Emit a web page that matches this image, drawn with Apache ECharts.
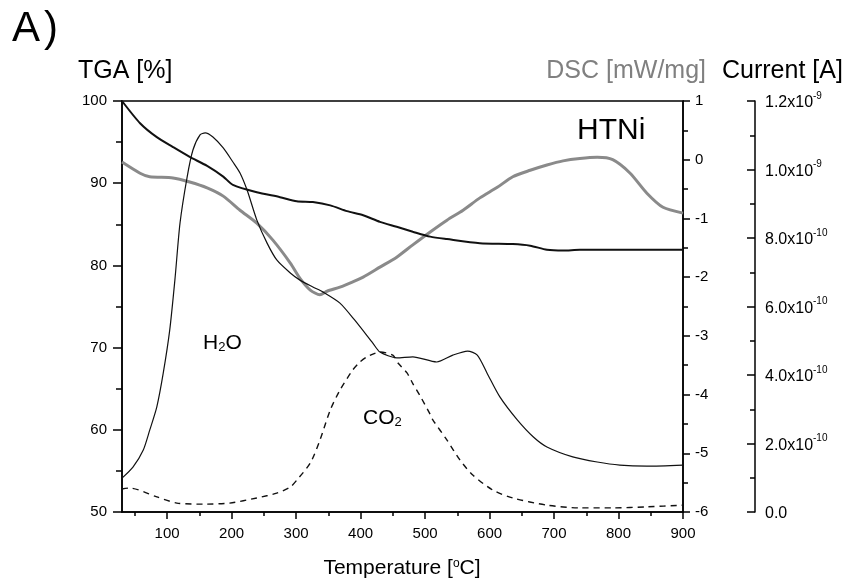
<!DOCTYPE html>
<html>
<head>
<meta charset="utf-8">
<script src="https://cdn.jsdelivr.net/npm/echarts@6/dist/echarts.min.js"></script>
<style>
  html, body { margin: 0; padding: 0; background: #fff; }
  #main { width: 850px; height: 584px; }
</style>
</head>
<body>
<div id="main"></div>
<script>
// x axis ticks (°C)
const xMajor = [100, 200, 300, 400, 500, 600, 700, 800, 900];
const xMinor = [50, 150, 250, 350, 450, 550, 650, 750, 850];

// TGA mass [%]
const tgaTemp = [30, 58, 84, 109, 135, 162, 187, 202, 239, 275, 301, 326, 353, 379, 404, 430, 456, 481, 508, 534, 585, 636, 663, 689, 714, 740, 791, 900];
const tgaMass = [100, 97.3, 95.6, 94.4, 93.2, 92.1, 90.8, 89.8, 88.9, 88.3, 87.8, 87.7, 87.3, 86.6, 86.1, 85.3, 84.7, 84.1, 83.5, 83.2, 82.7, 82.6, 82.4, 81.9, 81.8, 81.9, 81.9, 81.9];

// DSC [mW/mg]
const dscTemp = [30, 58, 73, 109, 135, 162, 187, 213, 239, 264, 291, 306, 322, 337, 348, 368, 388, 404, 430, 456, 481, 508, 534, 559, 585, 612, 636, 663, 689, 714, 740, 767, 791, 818, 844, 869, 900];
const dscVal = [-0.04, -0.23, -0.29, -0.31, -0.38, -0.48, -0.62, -0.86, -1.08, -1.37, -1.76, -2.02, -2.22, -2.30, -2.24, -2.17, -2.08, -2.0, -1.83, -1.66, -1.45, -1.23, -1.03, -0.86, -0.65, -0.47, -0.29, -0.18, -0.09, -0.02, 0.02, 0.04, 0.0, -0.23, -0.57, -0.81, -0.91];

// ion current, in units of 1e-10 A
const h2oTemp = [30, 47, 63, 73, 84, 94, 104, 112, 120, 131, 140, 151, 159, 171, 187, 202, 213, 224, 239, 255, 270, 291, 306, 326, 342, 368, 391, 419, 430, 456, 481, 518, 543, 566, 581, 596, 616, 643, 668, 689, 729, 767, 802, 844, 900];
const h2oCur = [0.99, 1.31, 1.81, 2.39, 3.07, 4.06, 5.31, 6.77, 8.44, 9.78, 10.57, 11.01, 11.07, 10.95, 10.63, 10.22, 9.9, 9.4, 8.53, 7.85, 7.36, 6.98, 6.77, 6.57, 6.42, 6.1, 5.6, 4.93, 4.67, 4.5, 4.53, 4.38, 4.58, 4.70, 4.58, 4.06, 3.36, 2.69, 2.19, 1.90, 1.61, 1.46, 1.37, 1.34, 1.37];

const co2Temp = [30, 42, 84, 115, 156, 197, 239, 270, 291, 301, 322, 337, 353, 368, 388, 399, 410, 430, 450, 458, 472, 481, 492, 508, 512, 534, 554, 574, 605, 636, 689, 740, 791, 844, 900];
const co2Cur = [0.67, 0.70, 0.44, 0.26, 0.23, 0.26, 0.41, 0.55, 0.73, 0.93, 1.43, 2.10, 2.98, 3.56, 4.15, 4.38, 4.53, 4.67, 4.58, 4.35, 4.06, 3.75, 3.40, 2.85, 2.69, 2.10, 1.52, 1.08, 0.64, 0.41, 0.20, 0.12, 0.12, 0.15, 0.20];

const pairs = (xs, ys) => xs.map((x, i) => [x, ys[i]]);

const FONT = "'Liberation Sans', Arial, sans-serif";
const axisLine = { show: true, onZero: false, lineStyle: { color: '#000', width: 1.5 } };
const tickLine = { color: '#000', width: 1.5 };
const labelStyle = { color: '#000', fontSize: 15, fontFamily: FONT };
const subRich = {
  n: { fontSize: 21, fontFamily: FONT, fill: '#000', lineHeight: 26, verticalAlign: 'bottom' },
  sub: { fontSize: 13, fontFamily: FONT, fill: '#000', lineHeight: 12, verticalAlign: 'bottom' }
};

const chart = echarts.init(document.getElementById('main'));
chart.setOption({
  animation: false,
  backgroundColor: '#fff',
  grid: { left: 122, right: 167, top: 101, bottom: 72, show: true, borderColor: '#000', borderWidth: 1.5 },
  xAxis: [
    {
      type: 'value', min: 30, max: 900, position: 'bottom',
      axisLine: axisLine,
      axisTick: { show: true, length: 7, customValues: xMajor, lineStyle: tickLine },
      axisLabel: Object.assign({ customValues: xMajor, margin: 14 }, labelStyle),
      splitLine: { show: false }
    },
    {
      type: 'value', min: 30, max: 900, position: 'bottom',
      axisLine: { show: false, onZero: false },
      axisTick: { show: true, length: 4, customValues: xMinor, lineStyle: tickLine },
      axisLabel: { show: false },
      splitLine: { show: false }
    }
  ],
  yAxis: [
    {
      type: 'value', min: 50, max: 100, interval: 10, position: 'left',
      axisLine: axisLine,
      axisTick: { show: true, length: 9, lineStyle: tickLine },
      minorTick: { show: true, splitNumber: 2, length: 6, lineStyle: tickLine },
      axisLabel: Object.assign({ margin: 15 }, labelStyle),
      splitLine: { show: false }
    },
    {
      type: 'value', min: -6, max: 1, interval: 1, position: 'right',
      axisLine: axisLine,
      axisTick: { show: true, length: 7, lineStyle: tickLine },
      minorTick: { show: true, splitNumber: 2, length: 5, lineStyle: tickLine },
      axisLabel: Object.assign({ margin: 12 }, labelStyle),
      splitLine: { show: false }
    },
    {
      type: 'value', min: 0, max: 12, interval: 2, position: 'right', offset: 72,
      axisLine: axisLine,
      axisTick: { show: true, inside: true, length: 8, lineStyle: tickLine },
      minorTick: { show: true, splitNumber: 2, length: 5, lineStyle: tickLine },
      axisLabel: {
        margin: 10,
        formatter: function (v) {
          if (v === 0) return '{n|0.0}';
          if (v >= 10) return '{n|' + (v / 10).toFixed(1) + 'x10}{sup|-9}';
          return '{n|' + v.toFixed(1) + 'x10}{sup|-10}';
        },
        rich: {
          n: { fontSize: 16, fontFamily: FONT, color: '#000', lineHeight: 20, verticalAlign: 'bottom', padding: [4, 0, 0, 0] },
          sup: { fontSize: 10, fontFamily: FONT, color: '#000', lineHeight: 10, verticalAlign: 'top' }
        }
      },
      splitLine: { show: false }
    }
  ],
  graphic: [
    { type: 'text', x: 12, y: 29, style: { text: 'A', fontSize: 42, fontFamily: FONT, fill: '#000', align: 'left', verticalAlign: 'middle' } },
    { type: 'text', x: 44, y: 29, style: { text: ')', fontSize: 42, fontFamily: FONT, fill: '#000', align: 'left', verticalAlign: 'middle' } },
    { type: 'text', x: 78, y: 71, style: { text: 'TGA [%]', fontSize: 25, fontFamily: FONT, fill: '#000', align: 'left', verticalAlign: 'middle' } },
    { type: 'text', x: 706, y: 71, style: { text: 'DSC [mW/mg]', fontSize: 25, fontFamily: FONT, fill: '#808080', align: 'right', verticalAlign: 'middle' } },
    { type: 'text', x: 722, y: 71, style: { text: 'Current [A]', fontSize: 25, fontFamily: FONT, fill: '#000', align: 'left', verticalAlign: 'middle' } },
    { type: 'text', x: 577, y: 131, style: { text: 'HTNi', fontSize: 30, fontFamily: FONT, fill: '#000', align: 'left', verticalAlign: 'middle' } },
    { type: 'text', x: 203, y: 341, style: { text: '{n|H}{sub|2}{n|O}', align: 'left', verticalAlign: 'middle', rich: subRich } },
    { type: 'text', x: 363, y: 416, style: { text: '{n|CO}{sub|2}', align: 'left', verticalAlign: 'middle', rich: subRich } },
    {
      type: 'text', x: 402, y: 571,
      style: {
        text: '{n|Temperature [}{sup|o}{n|C]}', align: 'center', verticalAlign: 'middle',
        rich: {
          n: { fontSize: 21, fontFamily: FONT, fill: '#000', lineHeight: 26, verticalAlign: 'top' },
          sup: { fontSize: 12, fontFamily: FONT, fill: '#000', lineHeight: 12, verticalAlign: 'top' }
        }
      }
    }
  ],
  series: [
    {
      name: 'DSC', type: 'line', xAxisIndex: 0, yAxisIndex: 1,
      data: pairs(dscTemp, dscVal), showSymbol: false, smooth: 0.25,
      lineStyle: { color: '#8a8a8a', width: 3 }
    },
    {
      name: 'TGA', type: 'line', xAxisIndex: 0, yAxisIndex: 0,
      data: pairs(tgaTemp, tgaMass), showSymbol: false, smooth: 0.25,
      lineStyle: { color: '#111', width: 2 }
    },
    {
      name: 'H2O', type: 'line', xAxisIndex: 0, yAxisIndex: 2,
      data: pairs(h2oTemp, h2oCur), showSymbol: false, smooth: 0.25,
      lineStyle: { color: '#111', width: 1.2 }
    },
    {
      name: 'CO2', type: 'line', xAxisIndex: 0, yAxisIndex: 2,
      data: pairs(co2Temp, co2Cur), showSymbol: false, smooth: 0.25,
      lineStyle: { color: '#111', width: 1.4, type: [6, 5] }
    }
  ]
});
</script>
</body>
</html>
